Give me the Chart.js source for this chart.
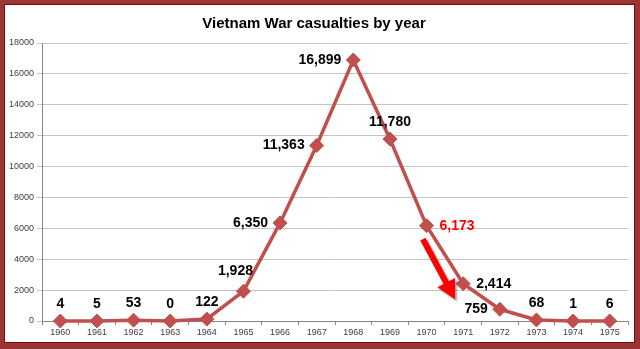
<!DOCTYPE html>
<html>
<head>
<meta charset="utf-8">
<title>Vietnam War casualties by year</title>
<script src="https://cdn.jsdelivr.net/npm/chart.js@4"></script>
<style>
  html, body { margin: 0; padding: 0; background: #fff; }
  canvas { display: block; }
</style>
</head>
<body>
<canvas id="chart" width="640" height="349"></canvas>
<script>
const YEARS = ['1960', '1961', '1962', '1963', '1964', '1965', '1966', '1967',
  '1968', '1969', '1970', '1971', '1972', '1973', '1974', '1975'];
const CASUALTIES = [4, 5, 53, 0, 122, 1928, 6350, 11363, 16899, 11780, 6173, 2414, 759, 68, 1, 6];
// where each value label sits relative to its marker
const LABEL_POS = ['top', 'top', 'top', 'top', 'top', 'topleft', 'left', 'left',
  'left', 'top', 'right', 'right', 'left', 'top', 'top', 'top'];
const HIGHLIGHT = '1970';
const Y_MAX = 18000;
const Y_STEP = 2000;

const LINE_RED = '#c0504d';

// outer maroon frame
const framePlugin = {
  id: 'frame',
  beforeDraw(chart) {
    const ctx = chart.ctx;
    const w = chart.width, h = chart.height;
    ctx.save();
    ctx.fillStyle = '#9b3535';
    ctx.fillRect(0, 0, w, h);
    ctx.fillStyle = '#ffffff';
    ctx.fillRect(5, 5, w - 11, h - 12);
    ctx.strokeStyle = '#7a0a0a';
    ctx.lineWidth = 1;
    ctx.strokeRect(4.5, 4.5, w - 10, h - 11);
    ctx.restore();
  }
};

// value labels + the red arrow
const labelsPlugin = {
  id: 'valueLabels',
  afterDatasetsDraw(chart) {
    const ctx = chart.ctx;
    const meta = chart.getDatasetMeta(0);
    ctx.save();
    ctx.font = 'bold 14px "Liberation Sans", Arial, sans-serif';
    ctx.textBaseline = 'middle';
    meta.data.forEach((pt, i) => {
      const txt = CASUALTIES[i].toLocaleString('en-US');
      ctx.fillStyle = YEARS[i] === HIGHLIGHT ? '#ff0000' : '#000000';
      let x = pt.x, y = pt.y;
      switch (LABEL_POS[i]) {
        case 'left': ctx.textAlign = 'right'; x -= 12; break;
        case 'right': ctx.textAlign = 'left'; x += 13; break;
        case 'topleft': ctx.textAlign = 'center'; x -= 8; y -= 20; break;
        default: ctx.textAlign = 'center'; y -= 17;
      }
      ctx.fillText(txt, x, y);
    });

    // arrow pointing down from 1970 towards 1971
    const xs = chart.scales.x, ys = chart.scales.y;
    const x0 = xs.getPixelForValue(9.9), y0 = ys.getPixelForValue(5300);
    const x1 = xs.getPixelForValue(10.78), y1 = ys.getPixelForValue(1400);
    const ang = Math.atan2(y1 - y0, x1 - x0);
    const headLen = 19, headW = 10;
    const bx = x1 - Math.cos(ang) * headLen, by = y1 - Math.sin(ang) * headLen;
    ctx.shadowColor = 'rgba(0,0,0,0.35)';
    ctx.shadowOffsetX = 2;
    ctx.shadowOffsetY = 2;
    ctx.shadowBlur = 2;
    ctx.fillStyle = '#ff0000';
    const sw = 3;
    ctx.beginPath();
    ctx.moveTo(x0 + Math.sin(ang) * sw, y0 - Math.cos(ang) * sw);
    ctx.lineTo(bx + Math.sin(ang) * sw, by - Math.cos(ang) * sw);
    ctx.lineTo(bx + Math.sin(ang) * headW, by - Math.cos(ang) * headW);
    ctx.lineTo(x1, y1);
    ctx.lineTo(bx - Math.sin(ang) * headW, by + Math.cos(ang) * headW);
    ctx.lineTo(bx - Math.sin(ang) * sw, by + Math.cos(ang) * sw);
    ctx.lineTo(x0 - Math.sin(ang) * sw, y0 + Math.cos(ang) * sw);
    ctx.closePath();
    ctx.fill();
    ctx.restore();
  }
};

new Chart(document.getElementById('chart').getContext('2d'), {
  type: 'line',
  data: {
    labels: YEARS,
    datasets: [{
      data: CASUALTIES,
      borderColor: LINE_RED,
      borderWidth: 3.5,
      pointStyle: 'rectRot',
      pointRadius: 7,
      pointBackgroundColor: LINE_RED,
      pointBorderColor: LINE_RED,
      pointBorderWidth: 1,
      tension: 0,
      clip: false
    }]
  },
  options: {
    responsive: false,
    animation: false,
    devicePixelRatio: 1,
    layout: {
      padding: { left: 0, right: 12, top: 0, bottom: 0 }
    },
    plugins: {
      legend: { display: false },
      tooltip: { enabled: false },
      title: {
        display: true,
        text: 'Vietnam War casualties by year',
        color: '#000',
        font: { family: '"Liberation Sans", Arial, sans-serif', size: 15, weight: 'bold' },
        padding: { top: 15, bottom: 10 }
      }
    },
    scales: {
      x: {
        offset: true,
        afterFit: (s) => { s.height = 28; },
        grid: {
          drawOnChartArea: false,
          offset: true,
          tickLength: 4,
          color: '#868686'
        },
        border: { color: '#868686' },
        ticks: {
          autoSkip: false,
          maxRotation: 0,
          padding: 2,
          color: '#404040',
          font: { family: '"Liberation Sans", Arial, sans-serif', size: 9 }
        }
      },
      y: {
        min: 0,
        max: Y_MAX,
        afterFit: (s) => { s.width = 42; },
        grid: {
          color: '#c4c4c4',
          tickLength: 5
        },
        border: { color: '#868686' },
        ticks: {
          stepSize: Y_STEP,
          padding: 3,
          color: '#404040',
          font: { family: '"Liberation Sans", Arial, sans-serif', size: 9 },
          callback: (v) => String(v)
        }
      }
    }
  },
  plugins: [framePlugin, labelsPlugin]
});
</script>
</body>
</html>
